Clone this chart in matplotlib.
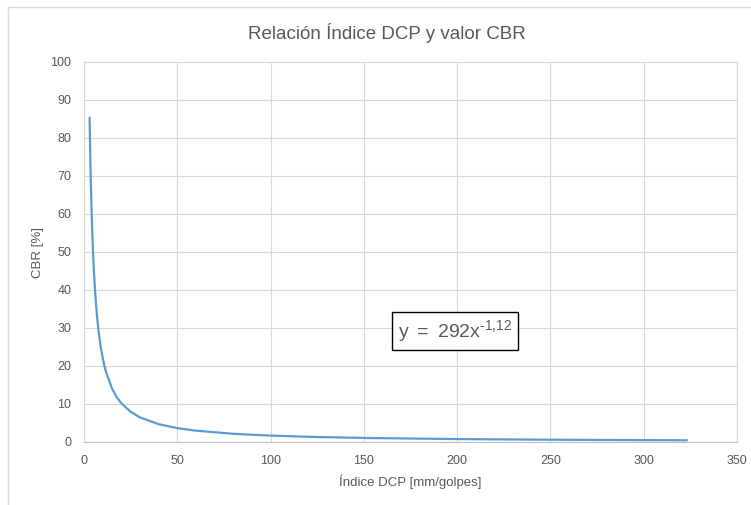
import matplotlib.pyplot as plt
from matplotlib.lines import Line2D

plt.rcParams['font.family'] = ['Liberation Sans', 'DejaVu Sans']

# points (Indice DCP, CBR)
dcp = [3, 3.25, 3.5, 4, 4.5, 5, 5.5, 6, 6.5, 7, 8, 9, 10, 11, 12, 15, 17.5, 20,
       25, 30, 40, 50, 60, 80, 100, 125, 150, 200, 250, 300, 323]
cbr = [85.3, 78.0, 71.8, 61.8, 54.2, 48.2, 43.3, 39.3, 35.9, 33.0, 28.4, 24.9,
       22.2, 19.9, 18.1, 14.1, 11.8, 10.2, 7.94, 6.47, 4.69, 3.65, 2.98, 2.16,
       1.68, 1.31, 1.07, 0.77, 0.60, 0.49, 0.45]

xticks = [0, 50, 100, 150, 200, 250, 300, 350]
yticks = [0, 10, 20, 30, 40, 50, 60, 70, 80, 90, 100]

W, H = 751, 505
fig = plt.figure(figsize=(W / 100, H / 100), dpi=100)

# chart area border
fig.add_artist(Line2D([8 / W, 1], [1 - 7 / H, 1 - 7 / H], color='#d9d9d9', lw=1))
fig.add_artist(Line2D([8 / W, 8 / W], [0, 1 - 7 / H], color='#d9d9d9', lw=1))

ax = fig.add_axes([84 / W, 1 - 442 / H, 653 / W, 380 / H])
ax.plot(dcp, cbr, color='#5b9bd5', lw=1.6)

ax.set_xlim(0, 350)
ax.set_ylim(0, 100)
ax.set_xticks(xticks)
ax.set_yticks(yticks)
ax.grid(True, color='#d9d9d9', lw=0.8)
ax.set_axisbelow(True)
for s in ax.spines.values():
    s.set_color('#d9d9d9')
ax.spines['bottom'].set_color('#bfbfbf')
ax.tick_params(length=0, labelsize=9, colors='#595959', pad=9)

ax.set_xlabel('Índice DCP [mm/golpes]', fontsize=9.5, color='#595959', labelpad=6)
ax.set_ylabel('CBR [%]', fontsize=9.5, color='#595959', labelpad=5)
fig.text(0.5 * (253 + 521) / W, 1 - 33 / H, 'Relación Índice DCP y valor CBR',
         ha='center', va='center', fontsize=13.5, color='#595959')

ax.text(199, 29.2, '$\\mathregular{y\\;=\\;292x^{\u2010 1{,}12}}$', ha='center', va='center',
        fontsize=14, color='#595959',
        bbox=dict(boxstyle='square,pad=0.3', fc='white', ec='black', lw=1))

fig.savefig('out.png', dpi=100)
